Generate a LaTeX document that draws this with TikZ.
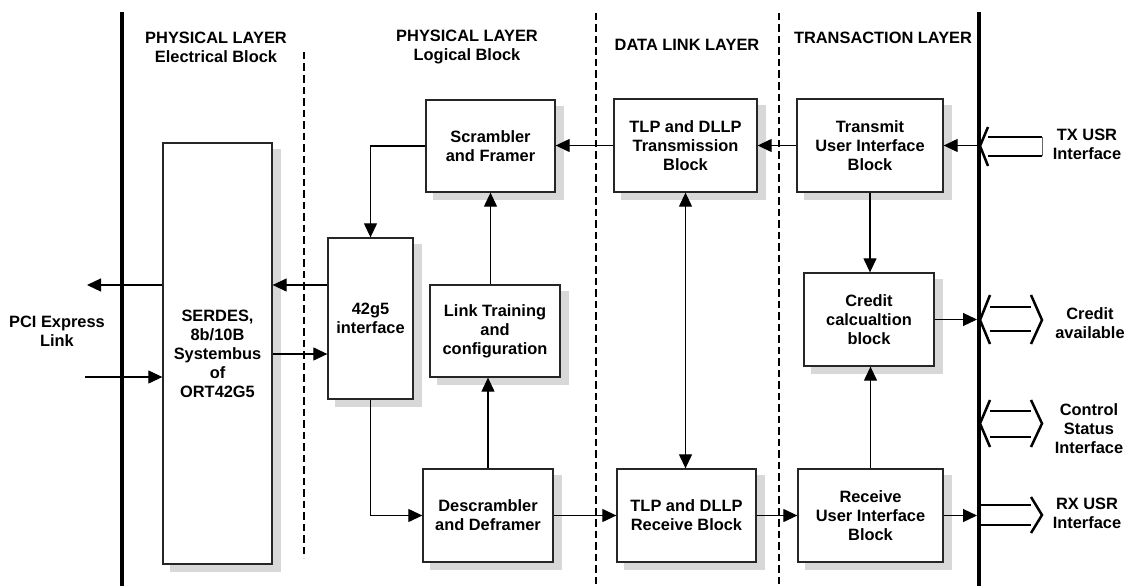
\documentclass[tikz,border=0pt]{standalone}
\usepackage{fontspec}
\setmainfont{Liberation Sans}
\usetikzlibrary{arrows.meta,backgrounds}
\definecolor{shgray}{RGB}{216,216,216}
\begin{document}
\begin{tikzpicture}[x=1pt,y=-1pt,
  every node/.style={font=\fontsize{16.4}{19}\selectfont\bfseries, align=center},
  blk/.style={draw=black!85, line width=1.3pt, fill=white, inner sep=0pt},
  lbl/.style={inner sep=0pt},
  thick line/.style={line width=4pt},
  sep line/.style={line width=2.3pt, dash pattern=on 7.5pt off 4pt},
  arr/.style={line width=1.2pt, -{Triangle[length=14pt,width=13pt]}},
  dbl/.style={line width=1.2pt, {Triangle[length=14pt,width=13pt]}-{Triangle[length=14pt,width=13pt]}},
  hol/.style={line width=2.5pt, line cap=butt, line join=miter},
  shad/.style={fill=shgray}
]
\useasboundingbox (0,0) rectangle (1127,586);

% layer separators
\draw[thick line] (122,12) -- (122,586);
\draw[thick line] (979,12) -- (979,586);
\draw[sep line] (304,52) -- (304,558);
\draw[sep line] (596,13) -- (596,586);
\draw[sep line] (779,13) -- (779,586);

% headers
\node[lbl] (h1) at (216,47.5) {PHYSICAL LAYER\\Electrical Block};
\node[lbl] (h2) at (467,47.5) {PHYSICAL LAYER\\Logical Block};
\node[lbl] (h3) at (687,45) {DATA LINK LAYER};
\node[lbl] (h4) at (883,38) {TRANSACTION LAYER};

% blocks
\node[blk, minimum width=109, minimum height=421] (serdes) at (217.5,353.5) {SERDES,\\8b/10B\\Systembus\\of\\ORT42G5};
\node[blk, minimum width=85, minimum height=161] (g5) at (370.5,318.5) {42g5\\interface};
\node[blk, minimum width=129, minimum height=92] (scr) at (490.5,146) {Scrambler\\and Framer};
\node[blk, minimum width=130, minimum height=92] (lt) at (495,331) {Link Training\\and\\configuration};
\node[blk, minimum width=130, minimum height=93] (des) at (488,515.5) {Descrambler\\and Deframer};
\node[blk, minimum width=143, minimum height=93] (tlptx) at (685.5,145.5) {TLP and DLLP\\Transmission\\Block};
\node[blk, minimum width=139, minimum height=93] (tlprx) at (686.5,515.5) {TLP and DLLP\\Receive Block};
\node[blk, minimum width=146, minimum height=93] (tx) at (870,145.5) {Transmit\\User Interface\\Block};
\node[blk, minimum width=130, minimum height=93] (cr) at (869,319.5) {Credit\\calcualtion\\block};
\node[blk, minimum width=145, minimum height=93] (rx) at (870.5,515.5) {Receive\\User Interface\\Block};

% shadows behind the blocks
\begin{scope}[on background layer]
\foreach \n in {serdes,g5,scr,lt,des,tlptx,tlprx,tx,cr,rx}
  \fill[shad] ([shift={(8,7)}]\n.north west) rectangle ([shift={(8,7)}]\n.south east);
\end{scope}

% side labels
\node[lbl] (pci) at (57,331) {PCI Express\\Link};
\node[lbl] (txl) at (1087,144) {TX USR\\Interface};
\node[lbl] (crl) at (1090,323) {Credit\\available};
\node[lbl] (csl) at (1089,429) {Control\\Status\\Interface};
\node[lbl] (rxl) at (1087,513) {RX USR\\Interface};

% free ends
\coordinate (pciout) at (87,285);
\coordinate (pciin) at (85,377);
\coordinate (txin) at (977,145.5);
\coordinate (crout) at (977,319.5);
\coordinate (rxout) at (977,515.5);

% connectors
\draw[arr] (serdes.west |- 0,285) -- (pciout);
\draw[arr] (pciin) -- (serdes.west |- 0,377);
\draw[arr] (g5.west |- 0,285) -- (serdes.east |- 0,285);
\draw[arr] (serdes.east |- 0,354) -- (g5.west |- 0,354);
\draw[arr] (scr.west) -| (g5.north);
\draw[arr] (g5.south) |- (des.west);
\draw[arr] (des.north) -- (des.north |- lt.south);
\draw[arr] (scr.south |- lt.north) -- (scr.south);
\draw[arr] (tlptx.west) -- (tlptx.west -| scr.east);
\draw[arr] (tx.west) -- (tx.west -| tlptx.east);
\draw[dbl] (tlptx.south) -- (tlptx.south |- tlprx.north);
\draw[arr] (des.east) -- (tlprx.west);
\draw[arr] (tlprx.east) -- (rx.west);
\draw[arr] (tx.south) -- (tx.south |- cr.north);
\draw[arr] (rx.north) -- (rx.north |- cr.south);
\draw[arr] (txin) -- (tx.east);
\draw[arr] (cr.east) -- (crout);
\draw[arr] (rx.east) -- (rxout);

% hollow interface arrows
% TX USR (pointing left)
\fill[white] (988,127) -- (980,146) -- (988,166) -- (988,156) -- (1042,156) -- (1042,137) -- (988,137) -- cycle;
\draw[hol] (988,127) -- (980,146) -- (988,166);
\draw[hol] (988,137) -- (1042,137);
\draw[hol] (988,156) -- (1042,156);
\draw[line width=0.8pt, black!60] (1042,137) -- (1042,156);
% Credit available (double)
\fill[white] (990,295) -- (980,320) -- (990,344) -- (990,331) -- (1031,331) -- (1031,344) -- (1042,320) -- (1031,295) -- (1031,307) -- (990,307) -- cycle;
\draw[hol] (990,295) -- (980,320) -- (990,344);
\draw[hol] (1031,295) -- (1042,320) -- (1031,344);
\draw[hol] (990,307) -- (1031,307);
\draw[hol] (990,331) -- (1031,331);
% Control status (double)
\fill[white] (990,400) -- (980,423.5) -- (990,447) -- (990,437) -- (1031,437) -- (1031,447) -- (1042,423.5) -- (1031,400) -- (1031,411) -- (990,411) -- cycle;
\draw[hol] (990,400) -- (980,423.5) -- (990,447);
\draw[hol] (1031,400) -- (1042,423.5) -- (1031,447);
\draw[hol] (990,411) -- (1031,411);
\draw[hol] (990,437) -- (1031,437);
% RX USR (pointing right)
\fill[white] (981,505) -- (1031,505) -- (1031,497) -- (1042,515) -- (1031,533) -- (1031,525) -- (981,525) -- cycle;
\draw[hol] (1031,497) -- (1042,515) -- (1031,533);
\draw[hol] (981,505) -- (1031,505);
\draw[hol] (981,525) -- (1031,525);
\end{tikzpicture}
\end{document}
